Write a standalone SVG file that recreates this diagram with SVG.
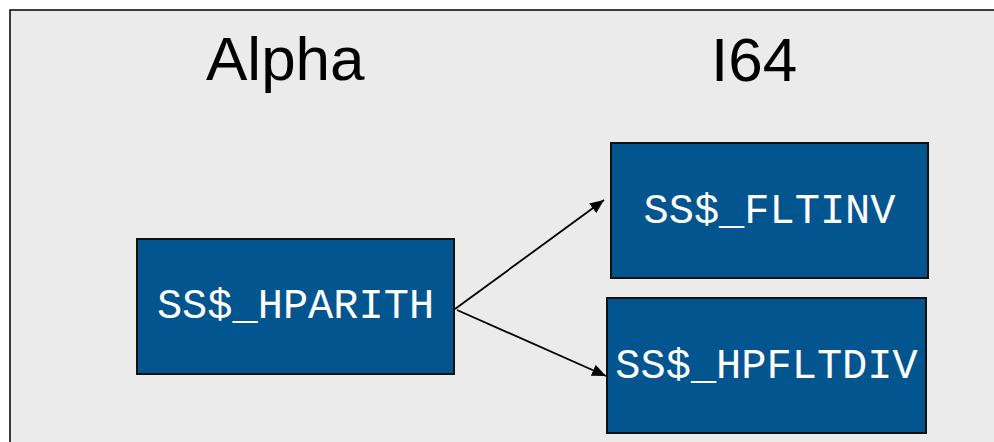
<svg xmlns="http://www.w3.org/2000/svg" width="994" height="442" viewBox="0 0 994 442">
<defs>
<style>
.node rect{fill:#02558f;stroke:#111;stroke-width:2}
.node text{fill:#fff;font-family:"Liberation Mono","Courier New",monospace;font-size:42px}
.title{fill:#000;font-family:"Liberation Sans",Arial,sans-serif;font-size:62px}
.conn line{stroke:#000;stroke-width:1.8;fill:none}
</style>
<marker id="arr" viewBox="0 0 14 12" refX="14" refY="6" markerWidth="14" markerHeight="12" markerUnits="userSpaceOnUse" orient="auto">
<path d="M0,0 L14,6 L0,12 z" fill="#000"/>
</marker>
</defs>
<rect x="0" y="0" width="994" height="442" fill="#fff"/>
<rect x="10" y="10" width="1000" height="450" fill="#ebebeb" stroke="#000" stroke-width="1.5"/>
<text class="title" x="206" y="80">Alpha</text>
<text class="title" x="711" y="81">I64</text>
<g id="hparith" class="node">
<rect x="137" y="239" width="317" height="135"/>
<text x="295.5" y="318" text-anchor="middle">SS$_HPARITH</text>
</g>
<g id="fltinv" class="node">
<rect x="611" y="143" width="317" height="135"/>
<text x="769.5" y="223" text-anchor="middle">SS$_FLTINV</text>
</g>
<g id="hpfltdiv" class="node">
<rect x="607" y="298" width="319" height="135"/>
<text x="766.5" y="378" text-anchor="middle">SS$_HPFLTDIV</text>
</g>
<g id="connectors" class="conn">
<line x1="455" y1="309" x2="604" y2="200" marker-end="url(#arr)"/>
<line x1="457" y1="310" x2="606" y2="376" marker-end="url(#arr)"/>
</g>
</svg>
